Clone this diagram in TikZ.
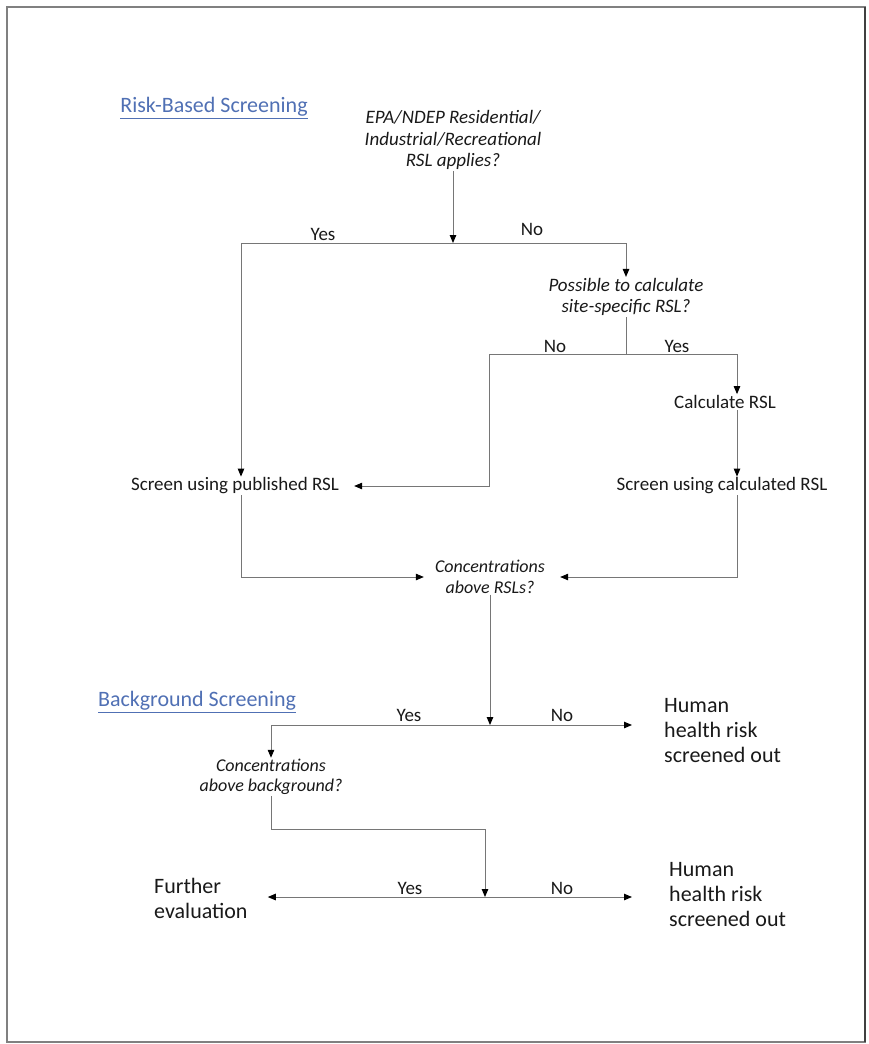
\documentclass[tikz,border=0pt]{standalone}
\usepackage{fontspec}
\setmainfont{Carlito}
\usepackage{xcolor}
\usetikzlibrary{arrows.meta, positioning, calc}
\definecolor{headblue}{HTML}{5070B4}
\definecolor{linegray}{HTML}{767676}

\begin{document}
\begin{tikzpicture}[x=1pt, y=-1pt,
    txt/.style={inner sep=1pt, font=\fontsize{19}{22}\selectfont, align=center, text=black!90},
    ask/.style={inner sep=1pt, font=\fontsize{19}{21.5}\selectfont\itshape, align=center, text=black!90},
    askc/.style={ask, font=\fontsize{18}{20.5}\selectfont\itshape},
    head/.style={inner sep=1pt, font=\fontsize{22}{26}\selectfont, text=headblue},
    big/.style={inner sep=1pt, font=\fontsize{22}{25}\selectfont, align=left, anchor=west, text=black!90},
    lbl/.style={inner sep=1pt, font=\fontsize{19}{22}\selectfont, anchor=south, text=black!90},
    line/.style={draw=linegray, line width=1pt},
    conn/.style={line, -{Triangle[length=8pt, width=6.5pt, black]}}]
    \useasboundingbox (0,0) rectangle (868,1044);
    \draw[gray, line width=2pt] (7,7) rectangle (865,1042);
    \draw[black!75, line width=2pt] (865,7) -- (865,1042);

    % risk-based part
    \node[head] (rbs) at (214,108) {\underline{Risk-Based Screening}};
    \node[ask] (rslq) at (453,140) {EPA/NDEP Residential/\\Industrial/Recreational\\RSL applies?};
    \coordinate (split1) at (453,243);
    \coordinate (yesbend1) at (241,243);
    \node[ask] (siteq) at (626,297) {Possible to calculate\\site-specific RSL?};
    \coordinate (split2) at (626,354);
    \coordinate (nobend2) at (489,354);
    \coordinate (yesbend2) at (737,354);
    \node[txt] (calc) at (725,402) {Calculate RSL};
    \node[txt] (pub) at (235,486) {Screen using published RSL};
    \node[txt] (scalc) at (722,486) {Screen using calculated RSL};
    \node[askc] (rslconc) at (490,577) {Concentrations\\above RSLs?};

    \node[lbl] (yes1) at (323,242) {Yes};
    \node[lbl] (no1) at (532,237) {No};
    \node[lbl] (no2) at (555,354) {No};
    \node[lbl] (yes2) at (677,354) {Yes};

    \draw[conn] (rslq) -- (split1);
    \draw[conn] (split1) -- (yesbend1) -- (yesbend1 |- pub.north);
    \draw[conn] (split1) -| (siteq.north);
    \draw[line] (siteq) -- (split2);
    \draw[conn] (split2) -- (nobend2) |- ([xshift=14pt]pub.east);
    \draw[conn] (split2) -- (yesbend2) -- (yesbend2 |- calc.north);
    \draw[conn] (calc.south -| yesbend2) -- (yesbend2 |- scalc.north);
    \draw[conn] (pub.south -| yesbend1) |- ([xshift=-10pt]rslconc.west);
    \draw[conn] (scalc.south -| yesbend2) |- ([xshift=14pt]rslconc.east);

    % background part
    \node[head] (bgs) at (197,702) {\underline{Background Screening}};
    \coordinate (split3) at (490,725);
    \coordinate (yesbend3) at (271,725);
    \node[big] (out1) at (663,731) {Human\\health risk\\screened out};
    \node[askc] (bgconc) at (271,777) {Concentrations\\above background?};
    \coordinate (bend4) at (485,829);
    \coordinate (split4) at (485,897);
    \node[big] (further) at (153,898) {Further\\evaluation};
    \node[big] (out2) at (668,895) {Human\\health risk\\screened out};

    \node[lbl] (yes3) at (409,723) {Yes};
    \node[lbl] (no3) at (562,723) {No};
    \node[lbl] (yes4) at (410,896) {Yes};
    \node[lbl] (no4) at (562,896) {No};

    \draw[conn] (rslconc) -- (split3);
    \draw[conn] (split3) -- (yesbend3) -- (bgconc.north);
    \draw[conn] (split3) -- ($(split3 -| out1.west)+(-31,0)$);
    \draw[line] (bgconc.south) |- (bend4);
    \draw[conn] (bend4) -- (split4);
    \draw[conn] (split4) -- ($(split4 -| further.east)+(19,0)$);
    \draw[conn] (split4) -- ($(split4 -| out2.west)+(-36,0)$);
\end{tikzpicture}
\end{document}
